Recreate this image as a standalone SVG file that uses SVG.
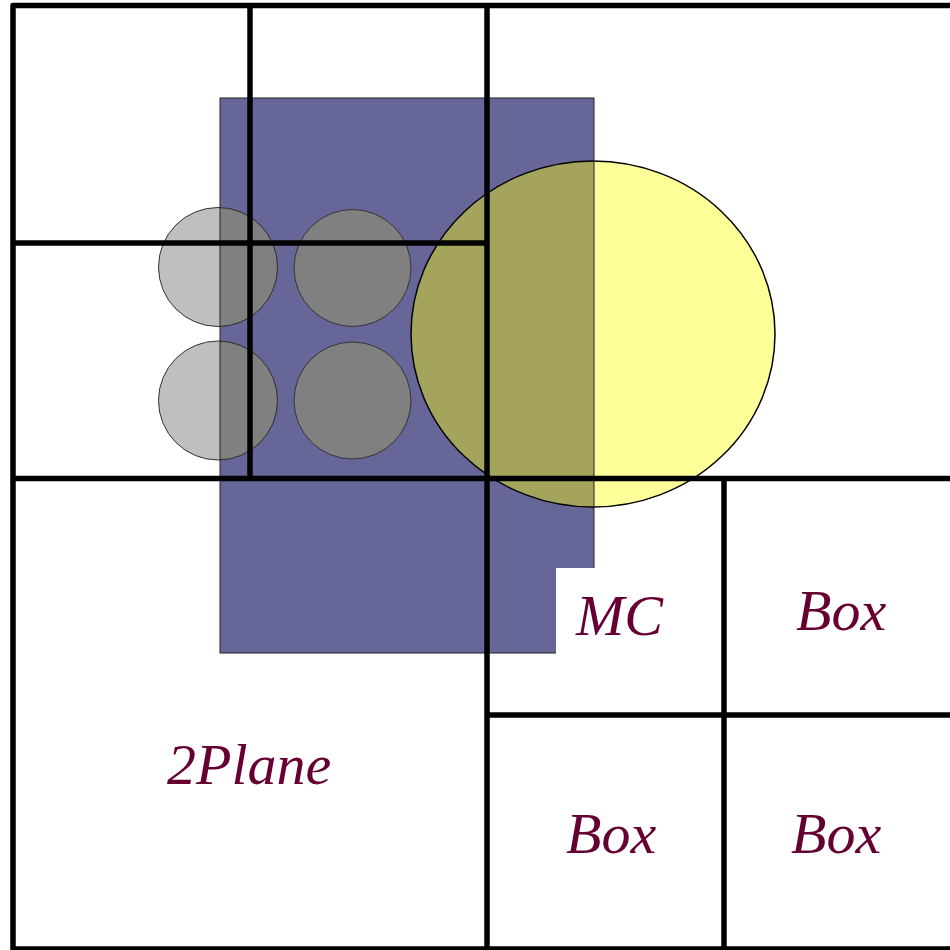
<svg xmlns="http://www.w3.org/2000/svg" width="950" height="950" viewBox="0 0 950 950">
  <style>
    .frame { fill: none; stroke: #000; stroke-width: 5.5; stroke-linejoin: round; }
    .lbl { font-family: "Liberation Serif", "Times New Roman", serif; font-style: italic; font-size: 58px; fill: #660033; }
    .gc { fill: #bfbfbf; stroke: #333; stroke-width: 1; }
    .gcd { fill: #808080; stroke: #333; stroke-width: 1; }
  </style>
  <defs>
    <clipPath id="blueClip">
      <rect x="220" y="98" width="374" height="555"/>
    </clipPath>
  </defs>
  <rect x="0" y="0" width="950" height="950" fill="#fff"/>

  <g id="plane-rect">
    <rect x="220" y="98" width="374" height="555" fill="#666699"/>
  </g>

  <g id="circles">
    <circle class="gc" cx="218" cy="267" r="59.5"/>
    <circle class="gc" cx="218" cy="400.5" r="59.5"/>
    <g clip-path="url(#blueClip)">
      <circle class="gcd" cx="218" cy="267" r="59.5"/>
      <circle class="gcd" cx="218" cy="400.5" r="59.5"/>
    </g>
    <circle class="gcd" cx="352.5" cy="268" r="58.5"/>
    <circle class="gcd" cx="352.5" cy="400.5" r="58.5"/>
  </g>

  <g id="mc-ellipse">
    <ellipse cx="593" cy="334" rx="182" ry="173" fill="#ffff99"/>
    <ellipse cx="593" cy="334" rx="182" ry="173" fill="#a4a45c" clip-path="url(#blueClip)"/>
    <ellipse cx="593" cy="334" rx="182" ry="173" fill="none" stroke="#000" stroke-width="1.5"/>
  </g>

  <rect x="220" y="98" width="374" height="555" fill="none" stroke="#222" stroke-width="1"/>

  <g id="mc-label-bg">
    <rect x="556" y="568" width="130" height="95" fill="#fff"/>
  </g>

  <g id="frame">
    <rect class="frame" x="13" y="5.5" width="950" height="943.5"/>
    <line class="frame" x1="487" y1="5.5" x2="487" y2="949"/>
    <line class="frame" x1="13" y1="478.5" x2="950" y2="478.5"/>
    <line class="frame" x1="250" y1="5.5" x2="250" y2="481"/>
    <line class="frame" x1="13" y1="243" x2="487" y2="243"/>
    <line class="frame" x1="724" y1="478.5" x2="724" y2="949"/>
    <line class="frame" x1="487" y1="715" x2="950" y2="715"/>
  </g>

  <g id="labels">
    <text class="lbl" x="167" y="784">2Plane</text>
    <text class="lbl" x="576" y="635">MC</text>
    <text class="lbl" x="796" y="630">Box</text>
    <text class="lbl" x="566" y="853">Box</text>
    <text class="lbl" x="791" y="853">Box</text>
  </g>
</svg>
